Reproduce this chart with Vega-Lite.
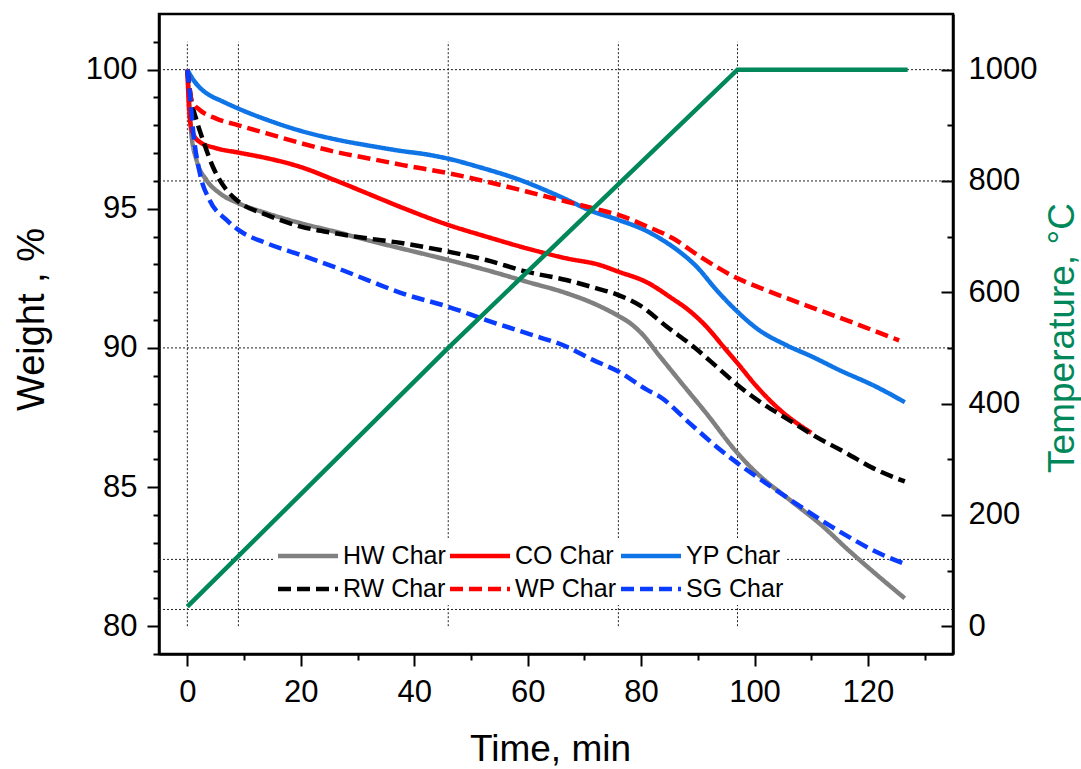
{
  "$schema": "https://vega.github.io/schema/vega-lite/v6.json",
  "width": 794,
  "height": 640,
  "autosize": "none",
  "padding": {"left": 159, "top": 14, "right": 128, "bottom": 115},
  "background": "white",
  "config": {
    "view": {"stroke": "black", "strokeWidth": 2.5},
    "font": "Liberation Sans",
    "axis": {
      "domainColor": "black", "domainWidth": 2.5,
      "tickColor": "black", "tickWidth": 2,
      "labelColor": "black", "labelFont": "Liberation Sans", "labelFontSize": 31,
      "titleFont": "Liberation Sans", "titleFontWeight": "normal", "titleColor": "black",
      "grid": false, "labelFlush": false, "labelOverlap": false
    }
  },
  "datasets": {
    "vgrid": [{"t": 0}, {"t": 9}, {"t": 46}, {"t": 76}, {"t": 97}],
    "hgrid": [{"w": 100}, {"w": 96}, {"w": 90}, {"w": 82.4}, {"w": 80.6}],
    "temp": [
      {"t": 0, "T": 35}, {"t": 46, "T": 500}, {"t": 97, "T": 1000}, {"t": 127, "T": 1000}
    ],
    "weights": [
      {"series": "HW Char", "t": 0, "w": 100}, {"series": "HW Char", "t": 0.3, "w": 99}, {"series": "HW Char", "t": 0.7, "w": 97.7}, {"series": "HW Char", "t": 1.6, "w": 96.76}, {"series": "HW Char", "t": 3.35, "w": 96.04}, {"series": "HW Char", "t": 5.7, "w": 95.56}, {"series": "HW Char", "t": 9, "w": 95.2}, {"series": "HW Char", "t": 14, "w": 94.84}, {"series": "HW Char", "t": 20, "w": 94.48}, {"series": "HW Char", "t": 26, "w": 94.18}, {"series": "HW Char", "t": 32, "w": 93.86}, {"series": "HW Char", "t": 38, "w": 93.56}, {"series": "HW Char", "t": 46, "w": 93.16}, {"series": "HW Char", "t": 52.7, "w": 92.8}, {"series": "HW Char", "t": 59.8, "w": 92.38}, {"series": "HW Char", "t": 66.8, "w": 91.97}, {"series": "HW Char", "t": 71.5, "w": 91.61}, {"series": "HW Char", "t": 76, "w": 91.15}, {"series": "HW Char", "t": 78, "w": 90.9}, {"series": "HW Char", "t": 80, "w": 90.54}, {"series": "HW Char", "t": 83.3, "w": 89.7}, {"series": "HW Char", "t": 86.8, "w": 88.82}, {"series": "HW Char", "t": 91.5, "w": 87.65}, {"series": "HW Char", "t": 97, "w": 86.22}, {"series": "HW Char", "t": 100.4, "w": 85.5}, {"series": "HW Char", "t": 106.2, "w": 84.54}, {"series": "HW Char", "t": 112.1, "w": 83.58}, {"series": "HW Char", "t": 116.2, "w": 82.8}, {"series": "HW Char", "t": 120.9, "w": 81.96}, {"series": "HW Char", "t": 126.5, "w": 81.0},
      {"series": "CO Char", "t": 0, "w": 100}, {"series": "CO Char", "t": 0.4, "w": 98.3}, {"series": "CO Char", "t": 1, "w": 97.7}, {"series": "CO Char", "t": 2.2, "w": 97.4}, {"series": "CO Char", "t": 5, "w": 97.18}, {"series": "CO Char", "t": 9, "w": 97.02}, {"series": "CO Char", "t": 14, "w": 96.82}, {"series": "CO Char", "t": 20, "w": 96.5}, {"series": "CO Char", "t": 26, "w": 96.03}, {"series": "CO Char", "t": 32, "w": 95.53}, {"series": "CO Char", "t": 38, "w": 95.03}, {"series": "CO Char", "t": 46, "w": 94.42}, {"series": "CO Char", "t": 52.7, "w": 94.0}, {"series": "CO Char", "t": 59.8, "w": 93.58}, {"series": "CO Char", "t": 66.8, "w": 93.22}, {"series": "CO Char", "t": 72.7, "w": 92.98}, {"series": "CO Char", "t": 76, "w": 92.74}, {"series": "CO Char", "t": 81, "w": 92.36}, {"series": "CO Char", "t": 85.6, "w": 91.76}, {"series": "CO Char", "t": 88, "w": 91.42}, {"series": "CO Char", "t": 91.5, "w": 90.77}, {"series": "CO Char", "t": 94.5, "w": 90.05}, {"series": "CO Char", "t": 97, "w": 89.45}, {"series": "CO Char", "t": 100.4, "w": 88.61}, {"series": "CO Char", "t": 104.5, "w": 87.77}, {"series": "CO Char", "t": 110, "w": 86.95},
      {"series": "YP Char", "t": 0, "w": 100}, {"series": "YP Char", "t": 1, "w": 99.65}, {"series": "YP Char", "t": 2.2, "w": 99.35}, {"series": "YP Char", "t": 3.4, "w": 99.15}, {"series": "YP Char", "t": 6.3, "w": 98.85}, {"series": "YP Char", "t": 9, "w": 98.6}, {"series": "YP Char", "t": 14, "w": 98.2}, {"series": "YP Char", "t": 20, "w": 97.8}, {"series": "YP Char", "t": 26, "w": 97.5}, {"series": "YP Char", "t": 32, "w": 97.27}, {"series": "YP Char", "t": 38, "w": 97.07}, {"series": "YP Char", "t": 42, "w": 96.96}, {"series": "YP Char", "t": 46, "w": 96.8}, {"series": "YP Char", "t": 51.6, "w": 96.49}, {"series": "YP Char", "t": 58.6, "w": 96.04}, {"series": "YP Char", "t": 65.7, "w": 95.44}, {"series": "YP Char", "t": 71.5, "w": 94.9}, {"series": "YP Char", "t": 76, "w": 94.6}, {"series": "YP Char", "t": 81, "w": 94.2}, {"series": "YP Char", "t": 84, "w": 93.85}, {"series": "YP Char", "t": 86.5, "w": 93.5}, {"series": "YP Char", "t": 89.8, "w": 92.92}, {"series": "YP Char", "t": 93.3, "w": 92.08}, {"series": "YP Char", "t": 97, "w": 91.3}, {"series": "YP Char", "t": 100.4, "w": 90.7}, {"series": "YP Char", "t": 105.6, "w": 90.1}, {"series": "YP Char", "t": 110, "w": 89.7}, {"series": "YP Char", "t": 115, "w": 89.2}, {"series": "YP Char", "t": 121.5, "w": 88.6}, {"series": "YP Char", "t": 126.5, "w": 88.05},
      {"series": "RW Char", "t": 0, "w": 100}, {"series": "RW Char", "t": 0.7, "w": 98.9}, {"series": "RW Char", "t": 1.6, "w": 98.19}, {"series": "RW Char", "t": 2.75, "w": 97.47}, {"series": "RW Char", "t": 4.5, "w": 96.51}, {"series": "RW Char", "t": 6.9, "w": 95.68}, {"series": "RW Char", "t": 9, "w": 95.26}, {"series": "RW Char", "t": 14, "w": 94.78}, {"series": "RW Char", "t": 20, "w": 94.36}, {"series": "RW Char", "t": 26, "w": 94.12}, {"series": "RW Char", "t": 32, "w": 93.93}, {"series": "RW Char", "t": 38, "w": 93.76}, {"series": "RW Char", "t": 46, "w": 93.46}, {"series": "RW Char", "t": 52.7, "w": 93.16}, {"series": "RW Char", "t": 59.8, "w": 92.74}, {"series": "RW Char", "t": 66.8, "w": 92.44}, {"series": "RW Char", "t": 72, "w": 92.15}, {"series": "RW Char", "t": 76, "w": 91.9}, {"series": "RW Char", "t": 80, "w": 91.5}, {"series": "RW Char", "t": 84.5, "w": 90.77}, {"series": "RW Char", "t": 89.2, "w": 90.05}, {"series": "RW Char", "t": 93.3, "w": 89.33}, {"series": "RW Char", "t": 97, "w": 88.67}, {"series": "RW Char", "t": 100.9, "w": 88.07}, {"series": "RW Char", "t": 105.6, "w": 87.47}, {"series": "RW Char", "t": 110.3, "w": 86.87}, {"series": "RW Char", "t": 116.2, "w": 86.22}, {"series": "RW Char", "t": 120.9, "w": 85.68}, {"series": "RW Char", "t": 126.5, "w": 85.2},
      {"series": "WP Char", "t": 0, "w": 100}, {"series": "WP Char", "t": 0.3, "w": 99.5}, {"series": "WP Char", "t": 0.7, "w": 98.9}, {"series": "WP Char", "t": 2.2, "w": 98.55}, {"series": "WP Char", "t": 5, "w": 98.25}, {"series": "WP Char", "t": 9, "w": 98.0}, {"series": "WP Char", "t": 14, "w": 97.71}, {"series": "WP Char", "t": 20, "w": 97.36}, {"series": "WP Char", "t": 26, "w": 97.05}, {"series": "WP Char", "t": 32, "w": 96.81}, {"series": "WP Char", "t": 38, "w": 96.57}, {"series": "WP Char", "t": 46, "w": 96.28}, {"series": "WP Char", "t": 52.7, "w": 95.98}, {"series": "WP Char", "t": 59.8, "w": 95.62}, {"series": "WP Char", "t": 66.8, "w": 95.26}, {"series": "WP Char", "t": 72.7, "w": 94.96}, {"series": "WP Char", "t": 76, "w": 94.78}, {"series": "WP Char", "t": 81, "w": 94.37}, {"series": "WP Char", "t": 85.6, "w": 93.94}, {"series": "WP Char", "t": 90.4, "w": 93.28}, {"series": "WP Char", "t": 97, "w": 92.5}, {"series": "WP Char", "t": 102, "w": 92.08}, {"series": "WP Char", "t": 108, "w": 91.61}, {"series": "WP Char", "t": 116.8, "w": 90.95}, {"series": "WP Char", "t": 125.5, "w": 90.27},
      {"series": "SG Char", "t": 0, "w": 100}, {"series": "SG Char", "t": 0.5, "w": 99}, {"series": "SG Char", "t": 1, "w": 97.83}, {"series": "SG Char", "t": 2.2, "w": 96.28}, {"series": "SG Char", "t": 3.9, "w": 95.32}, {"series": "SG Char", "t": 6.9, "w": 94.6}, {"series": "SG Char", "t": 9, "w": 94.24}, {"series": "SG Char", "t": 14, "w": 93.76}, {"series": "SG Char", "t": 20, "w": 93.34}, {"series": "SG Char", "t": 26, "w": 92.9}, {"series": "SG Char", "t": 32, "w": 92.42}, {"series": "SG Char", "t": 38, "w": 91.95}, {"series": "SG Char", "t": 46, "w": 91.48}, {"series": "SG Char", "t": 52.7, "w": 91.0}, {"series": "SG Char", "t": 59.8, "w": 90.53}, {"series": "SG Char", "t": 66.8, "w": 90.05}, {"series": "SG Char", "t": 71.5, "w": 89.57}, {"series": "SG Char", "t": 76, "w": 89.15}, {"series": "SG Char", "t": 81, "w": 88.5}, {"series": "SG Char", "t": 83.3, "w": 88.25}, {"series": "SG Char", "t": 88.6, "w": 87.29}, {"series": "SG Char", "t": 93.3, "w": 86.45}, {"series": "SG Char", "t": 97, "w": 85.86}, {"series": "SG Char", "t": 102, "w": 85.14}, {"series": "SG Char", "t": 109, "w": 84.18}, {"series": "SG Char", "t": 116, "w": 83.28}, {"series": "SG Char", "t": 122, "w": 82.62}, {"series": "SG Char", "t": 126.5, "w": 82.24}
    ]
  },
  "layer": [
    {
      "layer": [
        {
          "data": {"name": "vgrid"},
          "mark": {"type": "rule", "stroke": "#222222", "strokeWidth": 1, "strokeDash": [2, 2]},
          "encoding": {
            "x": {
              "field": "t", "type": "quantitative",
              "scale": {"domain": [-5, 135], "nice": false, "zero": false},
              "axis": {
                "values": [0, 10, 20, 30, 40, 50, 60, 70, 80, 90, 100, 110, 120, 130],
                "labelExpr": "datum.value % 20 === 0 ? datum.label : ''",
                "tickSize": {"condition": {"test": "datum.value % 20 === 0", "value": 12}, "value": 6},
                "labelPadding": 11,
                "title": "Time, min", "titleFontSize": 37,
                "titleX": 391, "titleY": 106, "titleBaseline": "alphabetic", "titleAlign": "center"
              }
            },
            "y": {
              "datum": 80, "type": "quantitative",
              "scale": {"domain": [79, 102], "nice": false, "zero": false},
              "axis": {
                "values": [79, 80, 81, 82, 83, 84, 85, 86, 87, 88, 89, 90, 91, 92, 93, 94, 95, 96, 97, 98, 99, 100, 101],
                "labelExpr": "datum.value % 5 === 0 ? datum.label : ''",
                "tickSize": {"condition": {"test": "datum.value % 5 === 0", "value": 12}, "value": 6},
                "labelPadding": 10,
                "title": "Weight , %", "titleFontSize": 38, "titleAngle": -90,
                "titleX": -116, "titleY": 305, "titleBaseline": "alphabetic", "titleAlign": "center"
              }
            },
            "y2": {"datum": 101}
          }
        },
        {
          "data": {"name": "hgrid"},
          "mark": {"type": "rule", "stroke": "#222222", "strokeWidth": 1, "strokeDash": [2, 2]},
          "encoding": {
            "y": {
              "field": "w", "type": "quantitative",
              "scale": {"domain": [79, 102], "nice": false, "zero": false},
              "axis": {
                "values": [79, 80, 81, 82, 83, 84, 85, 86, 87, 88, 89, 90, 91, 92, 93, 94, 95, 96, 97, 98, 99, 100, 101],
                "labelExpr": "datum.value % 5 === 0 ? datum.label : ''",
                "tickSize": {"condition": {"test": "datum.value % 5 === 0", "value": 12}, "value": 6},
                "labelPadding": 10,
                "title": "Weight , %", "titleFontSize": 38, "titleAngle": -90,
                "titleX": -116, "titleY": 305, "titleBaseline": "alphabetic", "titleAlign": "center"
              }
            }
          }
        },
        {
          "data": {"name": "weights"},
          "mark": {"type": "line", "strokeWidth": 4.5, "interpolate": "monotone", "strokeCap": "butt"},
          "encoding": {
            "x": {
              "field": "t", "type": "quantitative",
              "scale": {"domain": [-5, 135], "nice": false, "zero": false},
              "axis": {
                "values": [0, 10, 20, 30, 40, 50, 60, 70, 80, 90, 100, 110, 120, 130],
                "labelExpr": "datum.value % 20 === 0 ? datum.label : ''",
                "tickSize": {"condition": {"test": "datum.value % 20 === 0", "value": 12}, "value": 6},
                "labelPadding": 11,
                "title": "Time, min", "titleFontSize": 37,
                "titleX": 391, "titleY": 106, "titleBaseline": "alphabetic", "titleAlign": "center"
              }
            },
            "y": {
              "field": "w", "type": "quantitative",
              "scale": {"domain": [79, 102], "nice": false, "zero": false},
              "axis": {
                "values": [79, 80, 81, 82, 83, 84, 85, 86, 87, 88, 89, 90, 91, 92, 93, 94, 95, 96, 97, 98, 99, 100, 101],
                "labelExpr": "datum.value % 5 === 0 ? datum.label : ''",
                "tickSize": {"condition": {"test": "datum.value % 5 === 0", "value": 12}, "value": 6},
                "labelPadding": 10,
                "title": "Weight , %", "titleFontSize": 38, "titleAngle": -90,
                "titleX": -116, "titleY": 305, "titleBaseline": "alphabetic", "titleAlign": "center"
              }
            },
            "color": {
              "field": "series", "type": "nominal",
              "scale": {
                "domain": ["HW Char", "CO Char", "YP Char", "RW Char", "WP Char", "SG Char"],
                "range": ["#808080", "#ff0000", "#0f74e6", "#000000", "#ff0000", "#0a3cff"]
              },
              "legend": {
                "orient": "none", "legendX": 116, "legendY": 524, "columns": 3, "direction": "horizontal", "title": null,
                "symbolType": "M-4,0H0.8", "symbolSize": 625, "symbolStrokeWidth": 4.5, "symbolOffset": 35,
                "labelFont": "Liberation Sans", "labelFontSize": 25, "labelColor": "black", "labelOffset": 0, "labelLimit": 300,
                "rowPadding": 5, "columnPadding": -5, "padding": 3, "fillColor": "white"
              }
            },
            "strokeDash": {
              "field": "series", "type": "nominal",
              "scale": {
                "domain": ["HW Char", "CO Char", "YP Char", "RW Char", "WP Char", "SG Char"],
                "range": [[1, 0], [1, 0], [1, 0], [13, 6], [13, 6], [13, 6]]
              },
              "legend": {
                "orient": "none", "legendX": 116, "legendY": 524, "columns": 3, "direction": "horizontal", "title": null,
                "symbolType": "M-4,0H0.8", "symbolSize": 625, "symbolStrokeWidth": 4.5, "symbolOffset": 35,
                "labelFont": "Liberation Sans", "labelFontSize": 25, "labelColor": "black", "labelOffset": 0, "labelLimit": 300,
                "rowPadding": 5, "columnPadding": -5, "padding": 3, "fillColor": "white"
              }
            }
          }
        }
      ]
    },
    {
      "data": {"name": "temp"},
      "mark": {"type": "line", "stroke": "#00885a", "strokeWidth": 4.5},
      "encoding": {
        "x": {
          "field": "t", "type": "quantitative",
          "scale": {"domain": [-5, 135], "nice": false, "zero": false},
          "axis": {
            "values": [0, 10, 20, 30, 40, 50, 60, 70, 80, 90, 100, 110, 120, 130],
            "labelExpr": "datum.value % 20 === 0 ? datum.label : ''",
            "tickSize": {"condition": {"test": "datum.value % 20 === 0", "value": 12}, "value": 6},
            "labelPadding": 11,
            "title": "Time, min", "titleFontSize": 37,
            "titleX": 391, "titleY": 106, "titleBaseline": "alphabetic", "titleAlign": "center"
          }
        },
        "y": {
          "field": "T", "type": "quantitative",
          "scale": {"domain": [-50, 1100], "nice": false, "zero": false},
          "axis": {
            "orient": "right",
            "values": [0, 100, 200, 300, 400, 500, 600, 700, 800, 900, 1000],
            "format": "d",
            "labelExpr": "datum.value % 200 === 0 ? datum.label : ''",
            "tickSize": {"condition": {"test": "datum.value % 200 === 0", "value": -12}, "value": -6},
            "labelPadding": 27,
            "title": "Temperature, °C", "titleFontSize": 37, "titleColor": "#00885a", "titleAngle": -90,
            "titleX": 120, "titleY": 323.5, "titleBaseline": "alphabetic", "titleAlign": "center"
          }
        }
      }
    }
  ],
  "resolve": {"scale": {"y": "independent"}}
}
